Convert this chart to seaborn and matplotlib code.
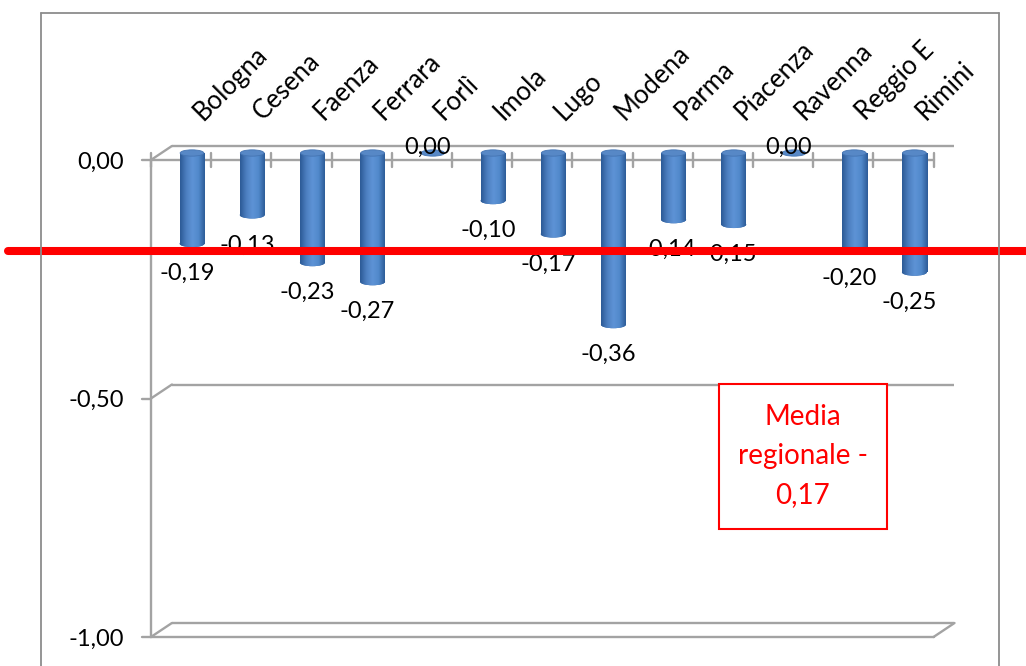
import numpy as np
import pandas as pd
import matplotlib
matplotlib.use("Agg")
import matplotlib.pyplot as plt
import seaborn as sns
from matplotlib.patches import Rectangle, Ellipse
from matplotlib.colors import LinearSegmentedColormap
from matplotlib.lines import Line2D

# ---------------- data ----------------
categories = ["Bologna", "Cesena", "Faenza", "Ferrara", "Forlì", "Imola", "Lugo",
              "Modena", "Parma", "Piacenza", "Ravenna", "Reggio E", "Rimini"]
values = [-0.19, -0.13, -0.23, -0.27, 0.00, -0.10, -0.17,
          -0.36, -0.14, -0.15, 0.00, -0.20, -0.25]
y_ticks = [0.0, -0.5, -1.0]
y_tick_labels = ["0,00", "-0,50", "-1,00"]
media_text = "Media\nregionale -\n0,17"
media_line_y = -0.205

# ---------------- layout (pixels) ----------------
W, H, DPI = 1026, 666, 100
X0_PX, CAT_PX = 192.0, 60.2      # centre of first bar, spacing
Y0_PX, UNIT_PX = 153.0, 477.0    # zero level of bars, px per unit
FDX, FDY = -11 / CAT_PX, -7 / UNIT_PX   # front plane offset (data units)
BDX, BDY = 10 / CAT_PX, 7 / UNIT_PX     # back plane offset
GRID = "#A3A3A3"
FS = 17
FS_CAT = 18.5

sns.set_theme(style="white")
plt.rcParams["font.family"] = ["Lato", "DejaVu Sans"]

fig = plt.figure(figsize=(W / DPI, H / DPI), dpi=DPI)
fig.patch.set_facecolor("white")
ax = fig.add_axes([0, 0, 1, 1])

df = pd.DataFrame({"cat": categories, "val": values})
BAR_W = 25 / CAT_PX
sns.barplot(data=df, x="cat", y="val", color="#4F81BD", width=BAR_W,
            saturation=1, errorbar=None, ax=ax, zorder=3)

xlim = (-X0_PX / CAT_PX, (W - X0_PX) / CAT_PX)
ylim = ((Y0_PX - H) / UNIT_PX, Y0_PX / UNIT_PX)

# cylinder shading
cmap = LinearSegmentedColormap.from_list(
    "cyl", ["#2C5A96", "#4C7FC0", "#5E93D6", "#5189CB", "#2D5C98"])
grad = np.linspace(0, 1, 64).reshape(1, -1)
ell_h = 7 / UNIT_PX
for p in list(ax.patches):
    x, w = p.get_x(), p.get_width()
    yb = p.get_y() + p.get_height()
    cx = x + w / 2
    lo, hi = min(p.get_y(), yb), max(p.get_y(), yb)
    if hi - lo > 1e-9:
        p.set_edgecolor("none")
        im = ax.imshow(grad, extent=(x, x + w, lo, hi), aspect="auto",
                       cmap=cmap, zorder=3.1, interpolation="bicubic")
        im.set_clip_path(p)
        # bottom end of cylinder
        eb = Ellipse((cx, yb), w, ell_h, facecolor="#3F6FAD",
                     edgecolor="none", zorder=3.0)
        ax.add_patch(eb)
        im2 = ax.imshow(grad, extent=(x, x + w, yb - ell_h, yb + ell_h),
                        aspect="auto", cmap=cmap, zorder=3.05,
                        interpolation="bicubic")
        im2.set_clip_path(eb)
    # top cap
    et = Ellipse((cx, 0), w * 0.95, ell_h * 0.9, facecolor="#5788C6",
                 edgecolor="#4474B2", lw=0.6, zorder=3.3)
    ax.add_patch(et)

ax.set_xlim(*xlim)
ax.set_ylim(*ylim)
ax.set_axis_off()

n = len(categories)
xl, xr = -0.5, n - 0.5
lw = 1.7

# back wall gridlines + diagonals
for t in y_ticks:
    ax.plot([xl + BDX, xr + BDX], [t + BDY, t + BDY], color=GRID, lw=lw,
            zorder=1, solid_capstyle="butt")
    ax.plot([xl + FDX, xl + BDX], [t + FDY, t + BDY], color=GRID, lw=lw,
            zorder=1)
# floor
ax.plot([xl + FDX, xr + FDX], [-1 + FDY, -1 + FDY], color=GRID, lw=lw, zorder=1)
ax.plot([xr + FDX, xr + BDX], [-1 + FDY, -1 + BDY], color=GRID, lw=lw, zorder=1)
# front vertical axis
ax.plot([xl + FDX, xl + FDX], [0 + FDY, -1 + FDY], color=GRID, lw=lw, zorder=2)
# front category axis at zero
ax.plot([xl + FDX, xr + FDX], [FDY, FDY], color=GRID, lw=lw, zorder=2)
for k in range(n + 1):
    xx = xl + k + FDX
    ax.plot([xx, xx], [FDY - 7 / UNIT_PX, FDY + 7 / UNIT_PX], color=GRID,
            lw=lw, zorder=2)
# y ticks and labels
for t, lab in zip(y_ticks, y_tick_labels):
    ax.plot([xl + FDX - 9 / CAT_PX, xl + FDX], [t + FDY, t + FDY],
            color=GRID, lw=lw, zorder=2)
    ax.text(xl + FDX - 27 / CAT_PX, t + FDY - 2 / UNIT_PX, lab, ha="right",
            va="center", fontsize=FS, color="black")

# category labels
for i, c in enumerate(categories):
    ax.text(i + 11 / CAT_PX, 32 / UNIT_PX, c, rotation=45, ha="left",
            va="baseline", rotation_mode="anchor", fontsize=FS_CAT, color="black")

# data labels
for i, v in enumerate(values):
    lab = f"{v:.2f}".replace(".", ",")
    if v < 0:
        ax.text(i - 5 / CAT_PX, v - 30 / UNIT_PX, lab, ha="center",
                va="center", fontsize=FS, color="black", zorder=5)
    else:
        ax.text(i - 5 / CAT_PX, v + 6 / UNIT_PX, lab, ha="center",
                va="center", fontsize=FS, color="black", zorder=5)

# red average line
ax.axhline(media_line_y, xmin=8 / W, xmax=1, color="#FF0000", lw=5.8, zorder=10)

# red annotation box
bx0, by0, bx1, by1 = 719, 384, 887, 529
ax.add_patch(Rectangle((bx0 / W, 1 - by1 / H), (bx1 - bx0) / W, (by1 - by0) / H,
                       transform=ax.transAxes, facecolor="white",
                       edgecolor="#FF0000", lw=1.5, zorder=6))
ax.text((bx0 + bx1) / 2 / W, 1 - 456 / H, media_text, transform=ax.transAxes,
        ha="center", va="center", fontsize=20, color="#FF0000",
        linespacing=1.6, zorder=7)

# outer chart border
bc = "#8C8C8C"
fig.add_artist(Line2D([41 / W, 41 / W], [0, 1 - 13 / H], transform=fig.transFigure, color=bc, lw=1.3))
fig.add_artist(Line2D([41 / W, 999 / W], [1 - 13 / H, 1 - 13 / H], transform=fig.transFigure, color=bc, lw=1.3))
fig.add_artist(Line2D([999 / W, 999 / W], [0, 1 - 13 / H], transform=fig.transFigure, color=bc, lw=1.3))

fig.savefig("out.png", dpi=DPI, facecolor="white")
